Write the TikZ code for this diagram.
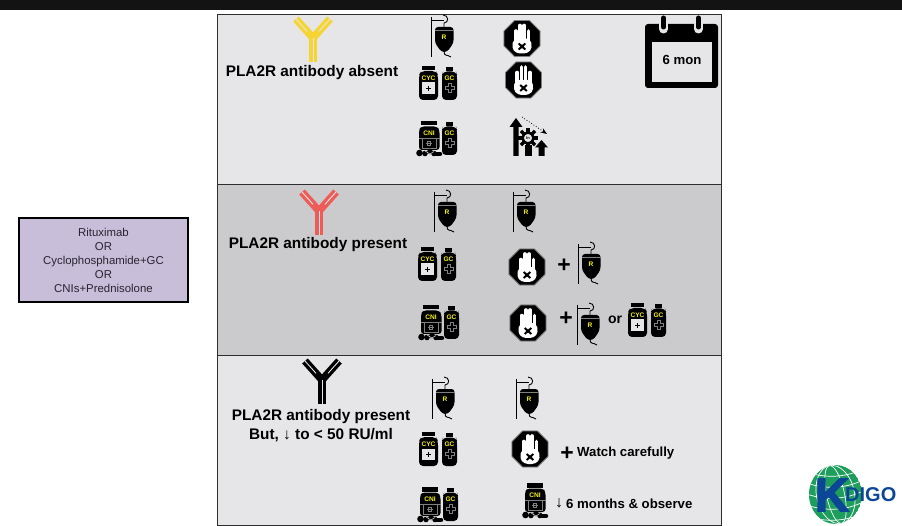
\documentclass[tikz,border=0pt]{standalone}
\usepackage{fontspec}
\setmainfont{Liberation Sans}
\newfontfamily\logofont[UprightFont=* Bold, FakeBold=3]{Liberation Sans}
\usetikzlibrary{arrows.meta}
\definecolor{mybar}{RGB}{19,19,19}
\definecolor{myframe}{RGB}{45,45,48}
\definecolor{panellight}{RGB}{230,230,232}
\definecolor{paneldark}{RGB}{203,202,204}
\definecolor{boxpurple}{RGB}{201,190,218}
\definecolor{boxtext}{RGB}{40,36,48}
\definecolor{labelyellow}{RGB}{245,240,20}
\definecolor{abyellow}{RGB}{246,212,50}
\definecolor{abred}{RGB}{238,92,88}
\definecolor{kgreen}{RGB}{30,158,92}
\definecolor{kblue}{RGB}{12,70,150}
\tikzset{
  panel/.style={draw=myframe, line width=1pt},
  headtext/.style={font=\fontsize{15.35}{19}\selectfont\bfseries, inner sep=0pt, align=center},
  notetext/.style={font=\fontsize{13.2}{15}\selectfont\bfseries, inner sep=0pt, anchor=west},
  plustext/.style={font=\fontsize{23}{23}\selectfont\bfseries, inner sep=0pt},
  iconlabel/.style={font=\fontsize{6.6}{7}\selectfont\bfseries, text=labelyellow, inner sep=0pt},
  pics/ivbag/.style={code={
    % pole and hook
    \draw[line width=0.9pt] (0,0) -- (0,40);
    \draw[line width=0.9pt] (0,3) -- (13,3);
    \draw[line width=0.9pt] (12,-2) .. controls (18,-2) and (18,6) .. (13,6) -- (13,10);
    % bag
    \fill[rounded corners=3pt] (4,10) -- (22.5,10) -- (22.5,26) -- (16,35) -- (10.5,35) -- (4,26) -- cycle;
    \draw[gray, line width=0.5pt] (4,13.5) -- (22.5,13.5);
    \node[iconlabel] (-lbl) at (13,20.5) {R};
    \draw[line width=0.9pt] (13,34) .. controls (13,40) and (16,37) .. (20,40);
  }},
  pics/gcbottle/.style={code={
    \fill (4,0) rectangle (11,4);
    \fill[rounded corners=4pt] (1,4.5) -- (14,4.5) -- (15,8) -- (15,33) -- (0,33) -- (0,8) -- cycle;
    \node[iconlabel] (-lbl) at (7.5,11) {GC};
    \draw[gray, line width=0.6pt] (6,16) -- (9,16) -- (9,19) -- (12,19) -- (12,22) -- (9,22) -- (9,25)
      -- (6,25) -- (6,22) -- (3,22) -- (3,19) -- (6,19) -- cycle;
  }},
  pics/cycbottle/.style={code={
    \fill (3,0) rectangle (16,4);
    \fill[rounded corners=4pt] (2,5) -- (17,5) -- (19,9) -- (19,34) -- (0,34) -- (0,9) -- cycle;
    \node[iconlabel] (-lbl) at (9.5,12) {CYC};
    \fill[panellight] (2.7,16.5) rectangle (16.3,28);
    \draw[line width=1.8pt] (7,22.5) -- (12,22.5) (9.5,20) -- (9.5,25);
  }},
  pics/cnibottle/.style={code={
    \fill (5,0) rectangle (21,4.5);
    \fill[rounded corners=3pt] (5,5.5) -- (21,5.5) -- (23.5,9) -- (23.5,29) -- (3,29) -- (3,9) -- cycle;
    \node[iconlabel] (-lbl) at (13,12) {CNI};
    \draw[gray, line width=0.5pt] (6,17) rectangle (20,27);
    \draw[gray, line width=0.5pt] (3,17) -- (23.5,17);
    \draw[gray, line width=0.5pt] (11.5,20) rectangle (14.5,24) (10,22) -- (16,22);
    % pills
    \fill (3.5,32) circle (3.3);
    \fill (9,32.5) circle (2.8);
    \fill (14,30.5) circle (2.8);
    \fill (18,32.5) circle (2.8);
    \draw[line width=4.5pt, line cap=round] (20,33) -- (24,33);
    \draw[panellight, line width=0.5pt] (9,30) -- (14,33) (14,33) -- (18,30.5);
  }},
  pics/cycgc/.style={code={
    \pic at (0,0) {cycbottle};
    \pic at (23,1) {gcbottle};
  }},
  pics/cnigc/.style={code={
    \pic at (0,0) {cnibottle};
    \pic at (26,1) {gcbottle};
  }},
  pics/stophand/.style={code={
    \fill[draw=gray, line width=0.8pt] (22.5:19.5) -- (67.5:19.5) -- (112.5:19.5) -- (157.5:19.5)
      -- (202.5:19.5) -- (247.5:19.5) -- (292.5:19.5) -- (337.5:19.5) -- cycle;
    % hand
    \foreach \fx/\fy in {-6.3/-7.5, -2.1/-13, 2.1/-13, 6.3/-7.5} {
      \draw[white, line width=3.6pt, line cap=round] (\fx,\fy) -- (\fx,3);
    }
    \fill[white, rounded corners=4pt] (-8.1,0) -- (8.1,0) -- (10.5,9) -- (6,15) -- (-6,15) -- (-10.5,9) -- cycle;
    \draw[line width=2pt] (-3.3,5) -- (3.3,11) (3.3,5) -- (-3.3,11);
  }},
  pics/antibody/.style={code={
    % stem and arms
    \draw[#1, line width=8pt] (0,-3) -- (0,26);
    \draw[#1, line width=7.5pt] (0,2) -- (-17,-17);
    \draw[#1, line width=7.5pt] (0,2) -- (17,-17);
    \draw[panellight, line width=0.9pt] (0,2) -- (0,26);
    \draw[panellight, line width=0.9pt] (-6,-4.7) -- (-17,-17);
    \draw[panellight, line width=0.9pt] (6,-4.7) -- (17,-17);
  }},
}
\begin{document}
\begin{tikzpicture}[x=1pt, y=-1pt]
  \useasboundingbox (0,0) rectangle (902,526);

  % Top bar
  \fill[mybar] (0,0) rectangle (902,10.5);

  % Panels
  \draw[panel, fill=panellight] (217.5,15) rectangle (721,185);
  \draw[panel, fill=paneldark] (217.5,185) rectangle (721,355.5);
  \draw[panel, fill=panellight] (217.5,355.5) rectangle (721,525);

  % Treatment box
  \node[draw=black, fill=boxpurple, line width=2.5pt, minimum width=169pt, minimum height=84pt, inner sep=0pt,
    text=boxtext, align=center, font=\fontsize{11.4}{14}\selectfont] (txbox) at (103.5,260)
    {Rituximab\\OR\\Cyclophosphamide+GC\\OR\\CNIs+Prednisolone};

  % Antibody absent
  \pic at (313,36) {antibody=abyellow};
  \node[headtext] (absent) at (312,72.5) {PLA2R antibody absent};
  \pic at (431,17) {ivbag};
  \pic at (419,66) {cycgc};
  \pic at (416,121) {cnigc};
  \pic at (522,38.5) {stophand};
  \pic at (523.5,80) {stophand};

  % Taper and raise
  \fill (516,118) -- (522.5,127) -- (518.7,127) -- (518.7,156) -- (513.3,156) -- (513.3,127) -- (509.5,127) -- cycle;
  \foreach \ang in {0,45,...,315} {
    \draw[line width=3.5pt] (528,138) -- ++(\ang:10);
  }
  \draw[fill=panellight, line width=2.5pt] (528,138) circle (5.5);
  \node[font=\fontsize{4}{4}\selectfont\bfseries, inner sep=0pt] (gearlbl) at (528,138) {In};
  \fill (524.5,145) rectangle (531.5,156);
  \fill (541.5,140) -- (548,147.5) -- (544.5,147.5) -- (544.5,156) -- (538.5,156) -- (538.5,147.5) -- (535,147.5) -- cycle;
  \draw[-Stealth, dotted, line width=0.8pt] (522,117) -- (547,134);

  % Calendar
  \fill[rounded corners=3pt] (645,24) rectangle (718,88);
  \fill[panellight] (652,42) rectangle (712,82);
  \foreach \cx in {663.5,698.5} {
    \draw[panellight, line width=9pt, line cap=round] (\cx,20) -- (\cx,29);
    \draw[line width=5pt, line cap=round] (\cx,18) -- (\cx,27);
  }
  \node[notetext, anchor=center] (months) at (682,60) {6 mon};

  % Antibody present
  \pic at (319,209) {antibody=abred};
  \node[headtext] (present) at (318,244.5) {PLA2R antibody present};
  \pic at (434,192) {ivbag};
  \pic at (513,192) {ivbag};
  \pic at (418,247) {cycgc};
  \pic at (527,267) {stophand};
  \node[plustext] (plusa) at (564,266) {+};
  \pic at (578,244) {ivbag};
  \pic at (418,305) {cnigc};
  \pic at (528,323) {stophand};
  \node[plustext] (plusb) at (566,319) {+};
  \pic at (577,305) {ivbag};
  \node[notetext, font=\fontsize{14}{15}\selectfont\bfseries, anchor=center] (orlbl) at (615,320) {or};
  \pic at (628,303) {cycgc};

  % Antibody falling
  \pic at (322,378) {antibody=black};
  \node[headtext] (falling) at (321,425.5) {PLA2R antibody present\\But, ↓ to < 50 RU/ml};
  \pic at (432,379) {ivbag};
  \pic at (516,379) {ivbag};
  \pic at (419,432) {cycgc};
  \pic at (530,449) {stophand};
  \node[plustext] (plusc) at (567,453.5) {+};
  \node[notetext] (watch) at (577,453.5) {Watch carefully};
  \pic at (417,487) {cnigc};
  \pic at (522,483) {cnibottle};
  \node[font=\fontsize{16}{16}\selectfont, inner sep=0pt] (downarr) at (559,503) {↓};
  \node[notetext] (observe) at (566,503.5) {6 months \& observe};

  % Logo
  \begin{scope}
    \clip (835.5,494.5) ellipse (26.5 and 29.5);
    \fill[kgreen] (835.5,494.5) ellipse (26.5 and 29.5);
    \foreach \rx in {9,19} {
      \draw[white, line width=0.7pt, rotate around={12:(835.5,494.5)}] (835.5,494.5) ellipse (\rx pt and 29.5pt);
    }
    \foreach \dy in {-22,-11,0,11,22} {
      \draw[white, line width=0.7pt] (808,494.5+\dy) .. controls (825,500+\dy) and (845,500+\dy) .. (863,491+\dy);
    }
  \end{scope}
  \node[font=\fontsize{47}{47}\selectfont\logofont, text=kblue, inner sep=0pt] (klogo) at (832,495) {K};
  \node[font=\fontsize{20}{20}\selectfont\bfseries, text=kblue, inner sep=0pt, anchor=west] (digo) at (845,494.5) {DIGO};
\end{tikzpicture}
\end{document}
